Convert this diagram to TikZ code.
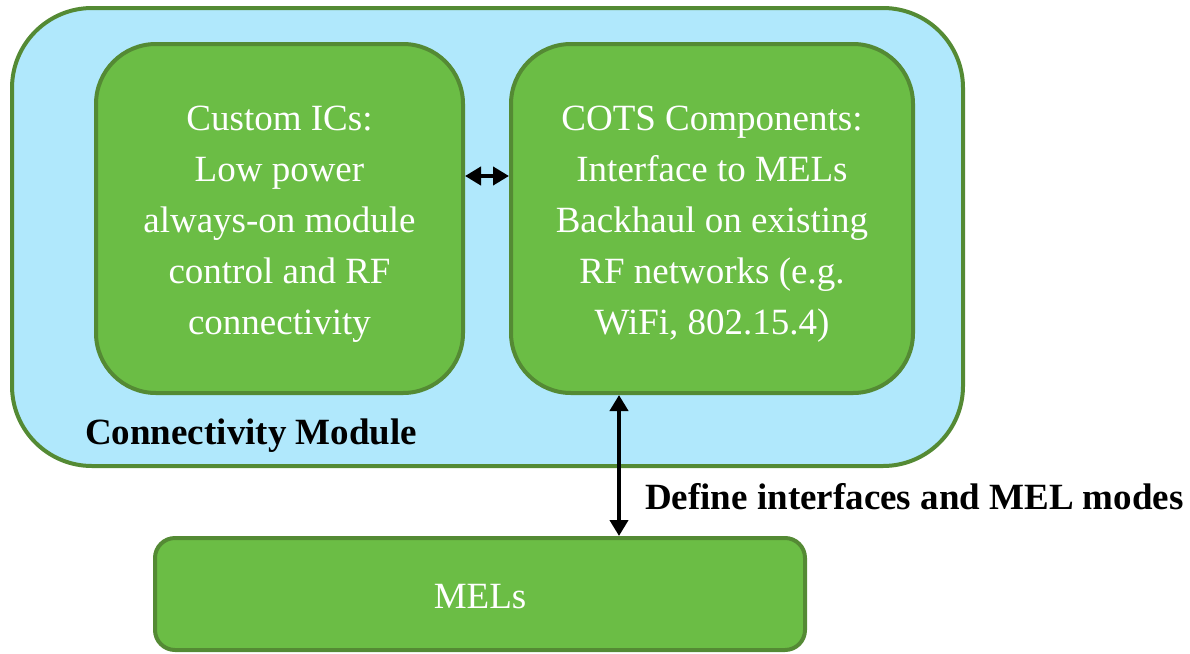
\documentclass[tikz,border=0pt]{standalone}
\usepackage{fontspec}
\setmainfont{Liberation Serif}
\usetikzlibrary{arrows.meta}
\definecolor{bluefill}{RGB}{176,232,252}
\definecolor{greenfill}{RGB}{107,189,69}
\definecolor{greenline}{RGB}{84,138,52}
\tikzset{
  outerbox/.style={draw=greenline, fill=bluefill, line width=4pt, rounded corners=80pt, inner sep=0pt},
  greenbox/.style={draw=greenline, fill=greenfill, line width=4pt, rounded corners=60pt, inner sep=0pt},
  greentext/.style={text=white, align=center, inner sep=0pt, font=\fontsize{37}{51}\selectfont},
  melbox/.style={greenbox, rounded corners=20pt},
  lbl/.style={font=\fontsize{37}{44}\selectfont\bfseries, inner sep=0pt},
  dbl/.style={line width=4pt, {Triangle[length=16pt,width=18pt]}-{Triangle[length=16pt,width=18pt]}}
}
\begin{document}
\begin{tikzpicture}[x=1pt,y=-1pt]
\useasboundingbox (0,0) rectangle (1190,653);
\node[outerbox, minimum width=951pt, minimum height=458pt] (outer) at (487.5,237) {};
\node[greenbox, minimum width=367pt, minimum height=349pt] (left) at (279.5,218.5) {};
\node[greentext] (lefttext) at ([yshift=-6pt]left.center)
  {Custom ICs:\\Low power\\always-on module\\control and RF\\connectivity};
\node[greenbox, minimum width=402pt, minimum height=349pt] (right) at (712,218.5) {};
\node[greentext] (righttext) at ([yshift=-6pt]right.center)
  {COTS Components:\\Interface to MELs\\Backhaul on existing\\RF networks (e.g.\\WiFi, 802.15.4)};
\node[melbox, minimum width=650pt, minimum height=112pt] (mels) at (480,594) {};
\node[greentext] (melstext) at ([yshift=-3pt]mels.center) {MELs};
\node[lbl, anchor=west] (cm) at (85,436) {Connectivity Module};
\node[lbl, anchor=west] (def) at (645,497) {Define interfaces and MEL modes};
\coordinate (ay) at (0,176);
\coordinate (vx) at (619,0);
\draw[dbl] (left.east |- ay) -- (right.west |- ay);
\draw[dbl] (right.south -| vx) -- (mels.north -| vx);
\end{tikzpicture}
\end{document}
